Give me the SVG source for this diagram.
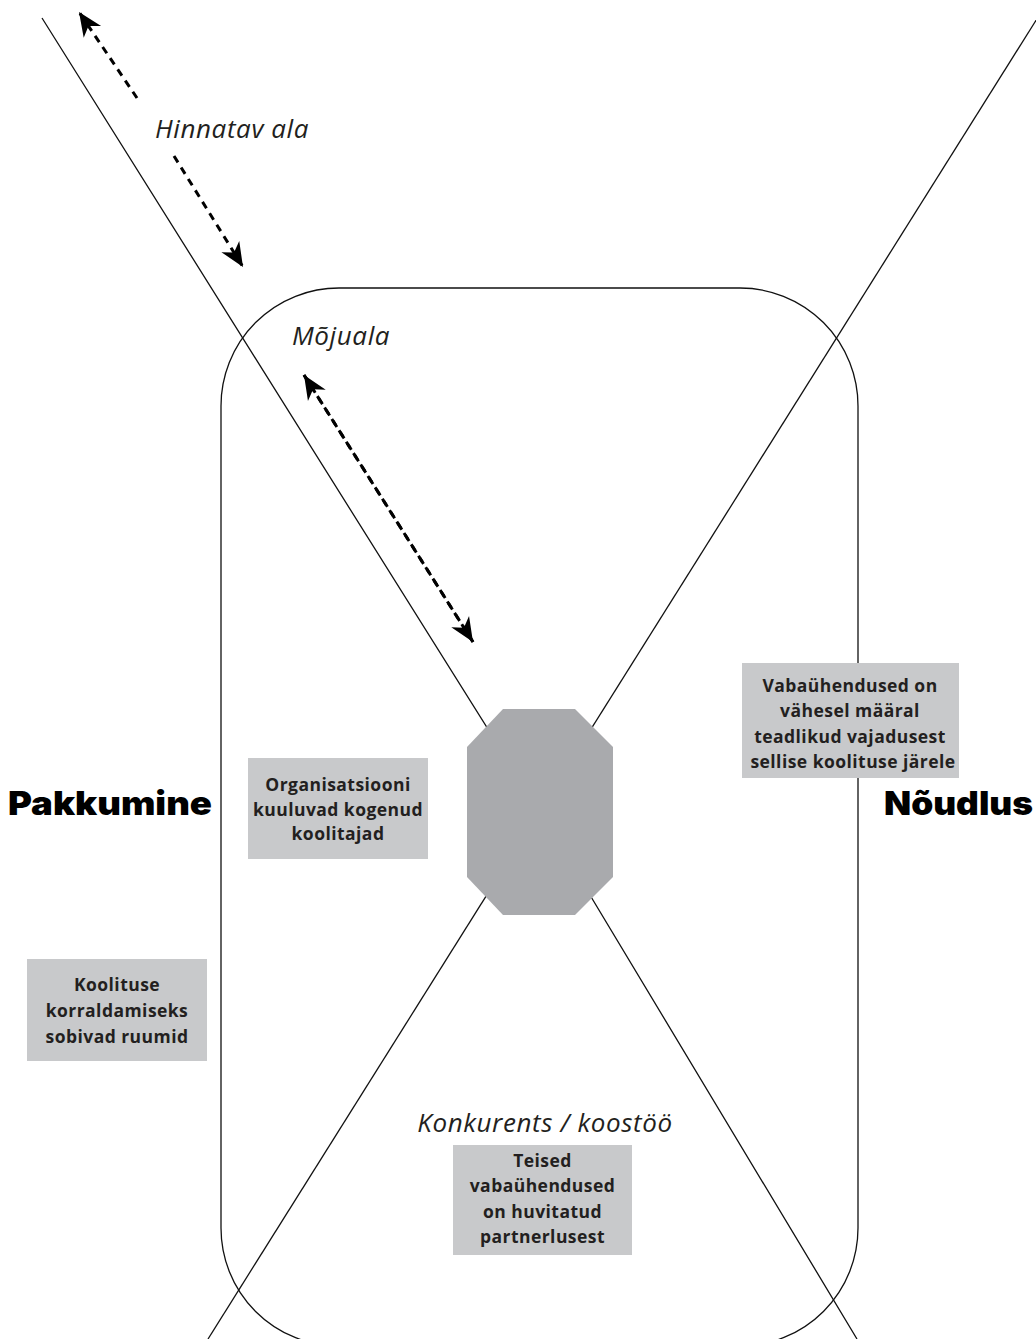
<svg xmlns="http://www.w3.org/2000/svg" width="1036" height="1339" viewBox="0 0 1036 1339">
  <style>
    .thin { fill: none; stroke: #111; stroke-width: 1.3; }
    .dash { fill: none; stroke: #000; stroke-width: 3; stroke-dasharray: 7.5 6; }
    .box { fill: #c8c9cb; }
    .lbl { font-family: "Open Sans", "Noto Sans", "Liberation Sans", sans-serif; font-weight: 700; font-size: 17.5px; letter-spacing: 0.45px; fill: #231f20; text-anchor: middle; }
    .area { font-family: "Open Sans", "Noto Sans", "Liberation Sans", sans-serif; font-style: italic; font-size: 26px; letter-spacing: 0.6px; fill: #231f20; }
    .side { font-family: "Inter", "Lato", "Liberation Sans", sans-serif; font-weight: 900; font-size: 33px; fill: #000; }
  </style>
  <defs>
    <marker id="head" markerUnits="userSpaceOnUse" markerWidth="30" markerHeight="30" viewBox="-26 -13 30 26" refX="0" refY="0" orient="auto">
      <path d="M0,0 L-24,-10.5 L-17,0 L-24,10.5 Z" fill="#000"/>
    </marker>
  </defs>

  <rect width="1036" height="1339" fill="#fff"/>

  <!-- outer rounded field -->
  <g id="field">
    <rect class="thin" x="221" y="288" width="637" height="1058" rx="118" ry="118"/>
  </g>

  <!-- diagonals and dashed range arrows -->
  <g id="connectors">
    <polyline class="thin" points="42,18 540,812 857,1339"/>
    <line class="thin" x1="1040" y1="14" x2="208" y2="1339"/>
    <path class="dash" d="M137,98 L79,12" marker-end="url(#head)"/>
    <path class="dash" d="M174,156 L243,267" marker-end="url(#head)"/>
    <path class="dash" d="M473,642 L304,375" marker-end="url(#head)"/>
    <path class="dash" d="M304,375 L473,642" marker-end="url(#head)" stroke="none"/>
  </g>

  <!-- central octagon -->
  <g id="core">
    <polygon points="503,709 575,709 613,747 613,877 575,915 503,915 467,877 467,747" fill="#a9aaad"/>
  </g>

  <g id="label-hinnatav">
    <text class="area" x="155" y="138">Hinnatav ala</text>
  </g>
  <g id="label-mojuala">
    <text class="area" x="292" y="345">Mõjuala</text>
  </g>
  <g id="label-konkurents">
    <text class="area" x="545" y="1132" text-anchor="middle">Konkurents / koostöö</text>
  </g>

  <g id="pakkumine">
    <text class="side" x="8" y="815" textLength="204" lengthAdjust="spacingAndGlyphs">Pakkumine</text>
  </g>
  <g id="noudlus">
    <text class="side" x="884" y="815" textLength="149" lengthAdjust="spacingAndGlyphs">Nõudlus</text>
  </g>

  <g id="box-koolitajad">
    <rect class="box" x="248" y="758" width="180" height="101"/>
    <text class="lbl" x="338" y="791">Organisatsiooni</text>
    <text class="lbl" x="338" y="816">kuuluvad kogenud</text>
    <text class="lbl" x="338" y="840">koolitajad</text>
  </g>

  <g id="box-vajadus">
    <rect class="box" x="742" y="663" width="217" height="115"/>
    <text class="lbl" x="850" y="692">Vabaühendused on</text>
    <text class="lbl" x="850" y="717">vähesel määral</text>
    <text class="lbl" x="850" y="743">teadlikud vajadusest</text>
    <text class="lbl" x="853" y="768">sellise koolituse järele</text>
  </g>

  <g id="box-ruumid">
    <rect class="box" x="27" y="959" width="180" height="102"/>
    <text class="lbl" x="117" y="991">Koolituse</text>
    <text class="lbl" x="117" y="1017">korraldamiseks</text>
    <text class="lbl" x="117" y="1043">sobivad ruumid</text>
  </g>

  <g id="box-partnerlus">
    <rect class="box" x="453" y="1145" width="179" height="110"/>
    <text class="lbl" x="542.5" y="1167">Teised</text>
    <text class="lbl" x="542.5" y="1192">vabaühendused</text>
    <text class="lbl" x="542.5" y="1218">on huvitatud</text>
    <text class="lbl" x="542.5" y="1243">partnerlusest</text>
  </g>
</svg>
